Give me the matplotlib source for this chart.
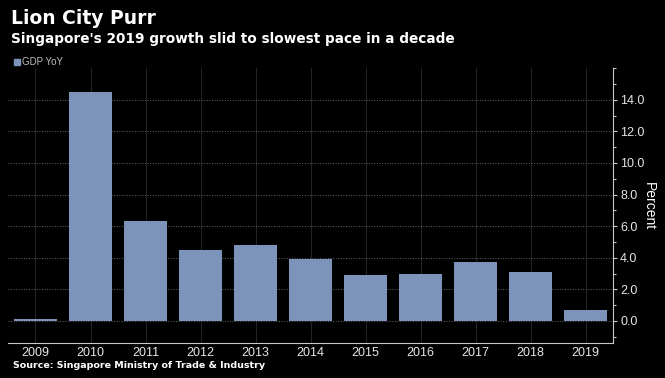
import matplotlib.pyplot as plt
from matplotlib.ticker import MultipleLocator, FormatStrFormatter

years = ['2009', '2010', '2011', '2012', '2013', '2014', '2015', '2016', '2017', '2018', '2019']
gdp_yoy = [0.1, 14.5, 6.3, 4.5, 4.8, 3.9, 2.9, 3.0, 3.7, 3.1, 0.7]

bar_color = '#7d94ba'
grey = '#c8c8c8'

fig = plt.figure(figsize=(6.65, 3.78), dpi=100, facecolor='black')
ax = fig.add_axes([0.012, 0.0926, 0.91, 0.727], facecolor='black')

x = range(len(years))
ax.bar(x, gdp_yoy, width=0.78, color=bar_color, zorder=3)

ax.set_xlim(-0.5, len(years) - 0.5)
ax.set_ylim(-1.4, 16)
ax.set_xticks(list(x))
ax.set_xticklabels(years, fontfamily='Liberation Sans')

# y axis on the right
ax.yaxis.tick_right()
ax.yaxis.set_label_position('right')
ax.yaxis.set_minor_locator(MultipleLocator(1))
ax.set_yticks([0, 2, 4, 6, 8, 10, 12, 14])
ax.yaxis.set_major_formatter(FormatStrFormatter('%.1f'))
for lbl in ax.get_yticklabels():
    lbl.set_fontfamily('Liberation Sans')
ax.set_ylabel('Percent', color='white', fontsize=10, rotation=270, labelpad=8,
              fontfamily='Liberation Sans')

ax.tick_params(axis='y', which='major', colors=grey, labelcolor='#e6e6e6', labelsize=9,
               length=3, width=0.8, pad=2)
ax.tick_params(axis='y', which='minor', colors=grey, length=2, width=0.8)
ax.tick_params(axis='x', colors=grey, labelcolor='#e6e6e6', labelsize=9, length=0, pad=3)

ax.grid(axis='y', which='major', color='#666666', linestyle=':', linewidth=0.7, zorder=0)
ax.grid(axis='x', color='#262626', linestyle='-', linewidth=0.7, zorder=0)

for s in ['top', 'left']:
    ax.spines[s].set_visible(False)
ax.spines['right'].set_color(grey)
ax.spines['bottom'].set_color(grey)

# titles
fig.text(0.016, 0.975, 'Lion City Purr', color='white', fontsize=13.5, fontweight='bold',
         va='top', ha='left')
fig.text(0.016, 0.915, "Singapore's 2019 growth slid to slowest pace in a decade",
         color='white', fontsize=9.8, fontweight='bold', va='top', ha='left')

# legend
fig.patches.append(plt.Rectangle((0.021, 0.828), 0.009, 0.016, color=bar_color,
                                 transform=fig.transFigure, figure=fig))
fig.text(0.033, 0.836, 'GDP YoY', color='#bbbbbb', fontsize=7, va='center', ha='left',
         fontfamily='Liberation Sans')

fig.text(0.019, 0.022, 'Source: Singapore Ministry of Trade & Industry', color='white',
         fontsize=6.8, fontweight='bold', va='bottom', ha='left')

fig.savefig('out.png', dpi=100, facecolor='black')
